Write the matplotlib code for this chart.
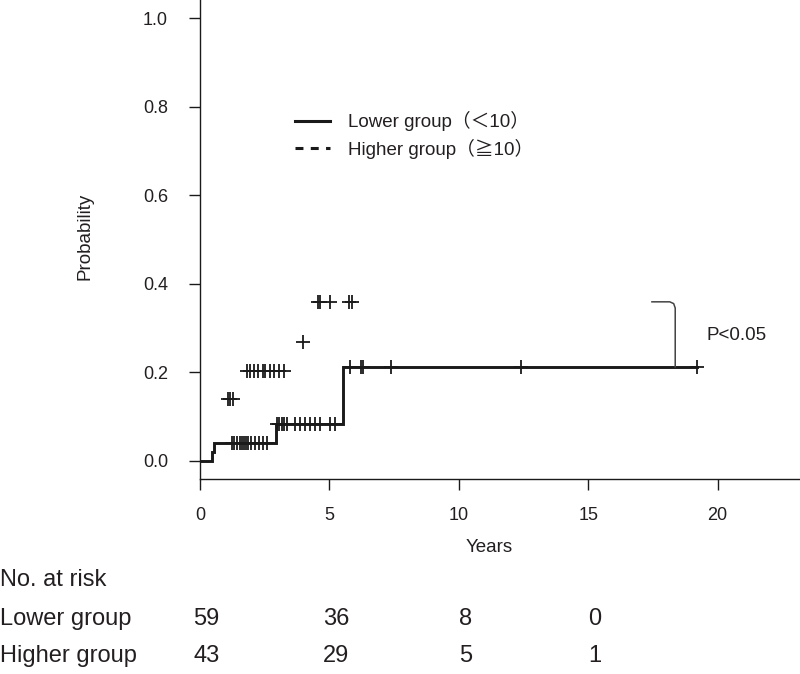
import matplotlib
matplotlib.use("Agg")
import numpy as np
import matplotlib.pyplot as plt
from matplotlib.lines import Line2D
from matplotlib import transforms

plt.rcParams["font.family"] = ["Liberation Sans", "Noto Sans CJK JP"]
TEXT = "#231f20"

# Lower group: cumulative incidence steps and censored times
lower_event_times = [0.45, 0.54, 2.93, 5.54]
lower_event_probs = [0.019, 0.041, 0.082, 0.212]
lower_censor_times = [1.23, 1.32, 1.44, 1.55, 1.62, 1.70, 1.78, 1.87, 1.96, 2.13, 2.27, 2.45, 2.58,
                      2.99, 3.07, 3.16, 3.25, 3.35, 3.67, 3.87, 4.06, 4.25, 4.45, 4.64, 5.03, 5.22,
                      5.80, 6.21, 6.31, 7.38, 12.41, 19.2]
lower_last_time = 19.2

# Higher group: only the censor marks are visible in the figure
higher_censor_times = [1.10, 1.17, 1.27,
                       1.80, 1.95, 2.08, 2.24, 2.43, 2.53, 2.71, 2.84, 3.07, 3.25,
                       3.97,
                       4.55, 4.65, 5.03, 5.74, 5.89]
higher_censor_probs = [0.139] * 3 + [0.203] * 10 + [0.269] + [0.359] * 5

# Number at risk table
risk_times = [0, 5, 10, 15]
risk_lower = [59, 36, 8, 0]
risk_higher = [43, 29, 5, 1]

p_text = "P<0.05"


def step_value(t, times, probs):
    idx = np.searchsorted(times, t, side="right")
    return np.concatenate([[0.0], probs])[idx]


fig = plt.figure(figsize=(8, 6.74), dpi=100)
ax = fig.add_axes([0.25, 1 - 479.3 / 674, 0.749, 479.3 / 674])

# lower group step curve
xs = np.concatenate([[0.0], lower_event_times, [lower_last_time]])
ys = np.concatenate([[0.0], lower_event_probs, [lower_event_probs[-1]]])
ax.step(xs, ys, where="post", color="#1a1a1a", lw=2.1, solid_joinstyle="miter")
lc = np.array(lower_censor_times)
ax.plot(lc, step_value(lc, lower_event_times, lower_event_probs), ls="none",
        marker="+", ms=9.6, mew=1.3, color="#1a1a1a")

# higher group censor marks
ax.plot(higher_censor_times, higher_censor_probs, ls="none",
        marker="+", ms=9.6, mew=1.3, color="#1a1a1a")

# bracket between groups with p-value
top = higher_censor_probs[-1]
bottom = lower_event_probs[-1]
ax.plot([17.46, 18.15, 18.3, 18.36, 18.36], [top, top, top - 0.004, top - 0.014, bottom],
        color="#444444", lw=1.1)
ax.text(19.56, 0.284, p_text, fontsize=13.5, color=TEXT, va="center", ha="left")

ax.set_xlim(0, 23.15)
ax.set_ylim(-0.042, 1.041)
ax.set_xticks([0, 5, 10, 15, 20])
ax.set_yticks(np.arange(0, 1.01, 0.2))
ax.set_yticklabels([f"{v:.1f}" for v in np.arange(0, 1.01, 0.2)])
ax.tick_params(axis="both", direction="out", length=8, width=1.0, colors="#1a1a1a",
               labelsize=13, labelcolor=TEXT)
ax.tick_params(axis="y", pad=15)
ax.tick_params(axis="x", pad=12)
for side in ["top", "right"]:
    ax.spines[side].set_visible(False)
for side in ["left", "bottom"]:
    ax.spines[side].set_linewidth(1.0)
    ax.spines[side].set_color("#1a1a1a")

fig.text(85 / 800, 1 - 236.5 / 674, "Probability", rotation=90, ha="center", va="center",
         fontsize=13.5, color=TEXT)
fig.text(489 / 800, 1 - 548 / 674, "Years", ha="center", va="center", fontsize=13.5, color=TEXT)

handles = [Line2D([], [], color="#1a1a1a", lw=2.2),
           Line2D([], [], color="#1a1a1a", lw=2.2, ls=(0, (2.6, 2.4)))]
ax.legend(handles, ["Lower group（＜10）", "Higher group（≧10）"], loc="upper left",
          bbox_to_anchor=(0.1586, 0.768), frameon=False, fontsize=13.5, handlelength=1.85,
          handletextpad=0.95, labelspacing=0.4, borderpad=0, borderaxespad=0,
          labelcolor=TEXT)

# number at risk table
blend = transforms.blended_transform_factory(ax.transData, fig.transFigure)
fig.text(0.0, 1 - 580.5 / 674, "No. at risk", ha="left", va="center", fontsize=17, color=TEXT)
fig.text(0.0, 1 - 619 / 674, "Lower group", ha="left", va="center", fontsize=17, color=TEXT)
fig.text(0.0, 1 - 656 / 674, "Higher group", ha="left", va="center", fontsize=17, color=TEXT)
for t, a, b in zip(risk_times, risk_lower, risk_higher):
    fig.text(t + 0.25, 1 - 619 / 674, str(a), transform=blend, ha="center", va="center",
             fontsize=17, color=TEXT)
    fig.text(t + 0.25, 1 - 656 / 674, str(b), transform=blend, ha="center", va="center",
             fontsize=17, color=TEXT)

fig.savefig("out.png", dpi=100)
